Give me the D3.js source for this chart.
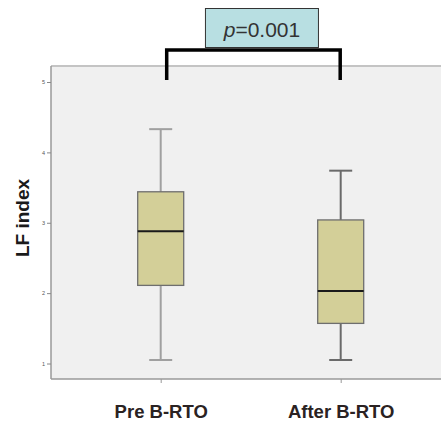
<!DOCTYPE html>
<html>
<head>
<meta charset="utf-8">
<script src="https://cdn.jsdelivr.net/npm/d3@7"></script>
<style>
  html, body { margin: 0; padding: 0; background: #ffffff; }
  svg { display: block; }
</style>
</head>
<body>
<svg id="chart" width="441" height="423"></svg>
<script>
// Groups and their five-number summaries (LF index)
const categories = ["Pre B-RTO", "After B-RTO"];
const whiskerLow  = [1.05, 1.05];
const quartile1   = [2.11, 1.57];
const medians     = [2.88, 2.03];
const quartile3   = [3.44, 3.04];
const whiskerHigh = [4.33, 3.74];
const yTicks = [1, 2, 3, 4, 5];
const pLabel = "0.001";

const svg = d3.select("#chart");
const plot = { left: 51, right: 441, top: 66, bottom: 379 };

const x = d3.scalePoint().domain(categories).range([160.7, 340.7]);
const y = d3.scaleLinear().domain([1, 5]).range([363.5, 82]);

// plot background
svg.append("rect")
  .attr("x", plot.left).attr("y", plot.top)
  .attr("width", plot.right - plot.left).attr("height", plot.bottom - plot.top)
  .attr("fill", "#f0f0f0");

// frame lines
svg.append("line").attr("x1", plot.left).attr("x2", plot.right)
  .attr("y1", plot.top).attr("y2", plot.top)
  .attr("stroke", "#c4c4c4").attr("stroke-width", 2);
svg.append("line").attr("x1", plot.left).attr("x2", plot.right)
  .attr("y1", plot.bottom).attr("y2", plot.bottom)
  .attr("stroke", "#9a9a9a").attr("stroke-width", 1.5);
svg.append("line").attr("x1", plot.left).attr("x2", plot.left)
  .attr("y1", plot.top).attr("y2", plot.bottom)
  .attr("stroke", "#9a9a9a").attr("stroke-width", 1.5);

// y axis
const yAxis = d3.axisLeft(y).tickValues(yTicks).tickSize(4).tickPadding(2)
  .tickFormat(d3.format("d"));
const gy = svg.append("g").attr("transform", `translate(${plot.left},0)`).call(yAxis);
gy.select(".domain").remove();
gy.selectAll(".tick line").attr("stroke", "#888").attr("stroke-width", 1);
gy.selectAll(".tick text").attr("font-family", "Arial, 'Liberation Sans', sans-serif")
  .attr("font-size", 5.5).attr("fill", "#555");

// x axis
const xAxis = d3.axisBottom(x).tickSize(4).tickPadding(22);
const gx = svg.append("g").attr("transform", `translate(0,${plot.bottom})`).call(xAxis);
gx.select(".domain").remove();
gx.selectAll(".tick line").attr("stroke", "#999").attr("stroke-width", 1);
gx.selectAll(".tick text")
  .attr("font-family", "Arial, 'Liberation Sans', sans-serif")
  .attr("font-weight", "bold").attr("font-size", 18.5).attr("fill", "#2a2222");

// y axis title
svg.append("text")
  .attr("transform", "translate(29,218) rotate(-90)")
  .attr("text-anchor", "middle")
  .attr("font-family", "Arial, 'Liberation Sans', sans-serif")
  .attr("font-weight", "bold").attr("font-size", 19).attr("fill", "#1a1a1a")
  .text("LF index");

// boxplots
const boxW = 46, capW = 23;
const whiskerColors = ["#a0a0a0", "#6a6a6a"];
categories.forEach((c, i) => {
  const cx = x(c);
  const g = svg.append("g");
  g.append("line").attr("x1", cx).attr("x2", cx)
    .attr("y1", y(whiskerHigh[i])).attr("y2", y(quartile3[i]))
    .attr("stroke", whiskerColors[i]).attr("stroke-width", 2);
  g.append("line").attr("x1", cx).attr("x2", cx)
    .attr("y1", y(quartile1[i])).attr("y2", y(whiskerLow[i]))
    .attr("stroke", whiskerColors[i]).attr("stroke-width", 2);
  [whiskerHigh[i], whiskerLow[i]].forEach(v => {
    g.append("line").attr("x1", cx - capW / 2).attr("x2", cx + capW / 2)
      .attr("y1", y(v)).attr("y2", y(v))
      .attr("stroke", whiskerColors[i]).attr("stroke-width", 2);
  });
  g.append("rect")
    .attr("x", cx - boxW / 2).attr("y", y(quartile3[i]))
    .attr("width", boxW).attr("height", y(quartile1[i]) - y(quartile3[i]))
    .attr("fill", "#d3cf98").attr("stroke", "#6e6e6e").attr("stroke-width", 1.3);
  g.append("line").attr("x1", cx - boxW / 2).attr("x2", cx + boxW / 2)
    .attr("y1", y(medians[i])).attr("y2", y(medians[i]))
    .attr("stroke", "#1a1a1a").attr("stroke-width", 2);
});

// significance bracket
const bx1 = x(categories[0]) + 6, bx2 = x(categories[1]) - 0.5;
svg.append("path")
  .attr("d", `M${bx1},80 V50 H${bx2} V80`)
  .attr("fill", "none").attr("stroke", "#000").attr("stroke-width", 3.5);

// p-value label box
const mid = (bx1 + bx2) / 2 + 8.5;
svg.append("rect")
  .attr("x", mid - 56.5).attr("y", 8.5).attr("width", 113).attr("height", 39)
  .attr("fill", "#b8dfe2").attr("stroke", "#333").attr("stroke-width", 1);
const pt = svg.append("text")
  .attr("x", mid).attr("y", 36.5).attr("text-anchor", "middle")
  .attr("font-family", "Arial, 'Liberation Sans', sans-serif")
  .attr("font-size", 21).attr("fill", "#333");
pt.append("tspan").attr("font-style", "italic").text("p");
pt.append("tspan").text("=" + pLabel);
</script>
</body>
</html>
